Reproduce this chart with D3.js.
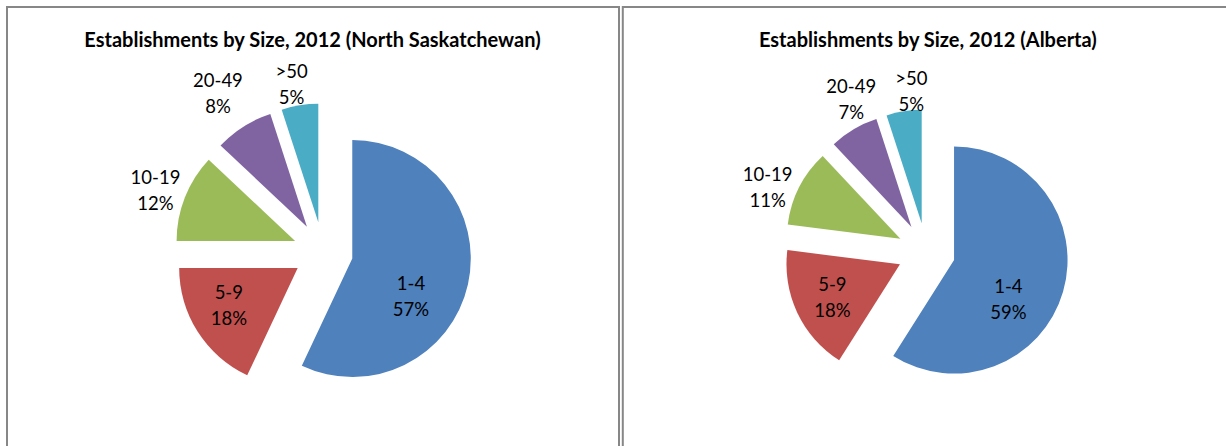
<!DOCTYPE html>
<html>
<head>
<meta charset="utf-8">
<script src="https://cdn.jsdelivr.net/npm/d3@7"></script>
<style>
  html, body { margin: 0; padding: 0; background: #fff; }
  svg { display: block; }
  .title { font-family: Lato, "Noto Sans", sans-serif; font-weight: bold; font-size: 20px; fill: #000; }
  .lbl { font-family: Lato, "Noto Sans", sans-serif; font-size: 18.5px; fill: #000; }
</style>
</head>
<body>
<svg id="chart" width="1226" height="446"></svg>
<script>
// size classes (number of employees) and their share of establishments, %
const sizeClasses = ["1-4", "5-9", "10-19", "20-49", ">50"];
const northSaskShare = [57, 18, 12, 8, 5];
const albertaShare = [59, 18, 11, 7, 5];

const sliceColors = ["#4F81BD", "#C0504D", "#9BBB59", "#8064A2", "#4BACC6"];

// layout of the two chart boxes
const panels = [
    {
        title: "Establishments by Size, 2012 (North Saskatchewan)",
        values: northSaskShare,
        x0: 7, x1: 619,
        cx: 323, cy: 252, r: 118.5, explode: 30,
        labelK: [0.831, 0.916, 1.507, 1.602, 1.438],
        labelNudge: [14.1, 2.6, -1.3, -1.2, -1.6]
    },
    {
        title: "Establishments by Size, 2012 (Alberta)",
        values: albertaShare,
        x0: 622.8, x1: 1240,
        cx: 926.2, cy: 252, r: 113.5, explode: 29,
        labelK: [0.834, 0.918, 1.509, 1.501, 1.417],
        labelNudge: [13.6, -0.6, -4.8, 4.5, 3.7]
    }
];

const svg = d3.select("#chart");
const toRad = Math.PI / 180;

const pie = d3.pie().sort(null).value(d => d.value);

function drawPanel(p) {
    const g = svg.append("g");

    g.append("rect")
        .attr("x", p.x0)
        .attr("y", 7)
        .attr("width", p.x1 - p.x0)
        .attr("height", 480)
        .attr("fill", "#fff")
        .attr("stroke", "#878787")
        .attr("stroke-width", 2);

    g.append("text")
        .attr("class", "title")
        .attr("x", (p.x0 + p.x1) / 2 + (p.x1 > 1226 ? -3.5 : -0.5))
        .attr("y", 46.5)
        .attr("text-anchor", "middle")
        .text(p.title);

    const data = sizeClasses.map((k, i) => ({ key: k, value: p.values[i], i }));
    const arcs = pie(data);
    const arc = d3.arc().innerRadius(0).outerRadius(p.r);

    const pieG = g.append("g")
        .attr("transform", `translate(${p.cx},${p.cy})`);

    pieG.selectAll("path")
        .data(arcs)
        .enter()
        .append("path")
        .attr("d", arc)
        .attr("fill", d => sliceColors[d.data.i])
        .attr("transform", d => {
            const a = (d.startAngle + d.endAngle) / 2;
            return `translate(${p.explode * Math.sin(a)},${-p.explode * Math.cos(a)})`;
        });

    const labels = pieG.selectAll("g.lab")
        .data(arcs)
        .enter()
        .append("g")
        .attr("class", "lab")
        .attr("transform", d => {
            const i = d.data.i;
            const a = (d.startAngle + d.endAngle) / 2 + p.labelNudge[i] * toRad;
            const rr = p.labelK[i] * p.r;
            return `translate(${rr * Math.sin(a)},${-rr * Math.cos(a)})`;
        });

    labels.append("text")
        .attr("class", "lbl")
        .attr("text-anchor", "middle")
        .attr("y", -6.5)
        .text(d => d.data.key);

    labels.append("text")
        .attr("class", "lbl")
        .attr("text-anchor", "middle")
        .attr("y", 19.5)
        .text(d => d.data.value + "%");
}

panels.forEach(drawPanel);
</script>
</body>
</html>
